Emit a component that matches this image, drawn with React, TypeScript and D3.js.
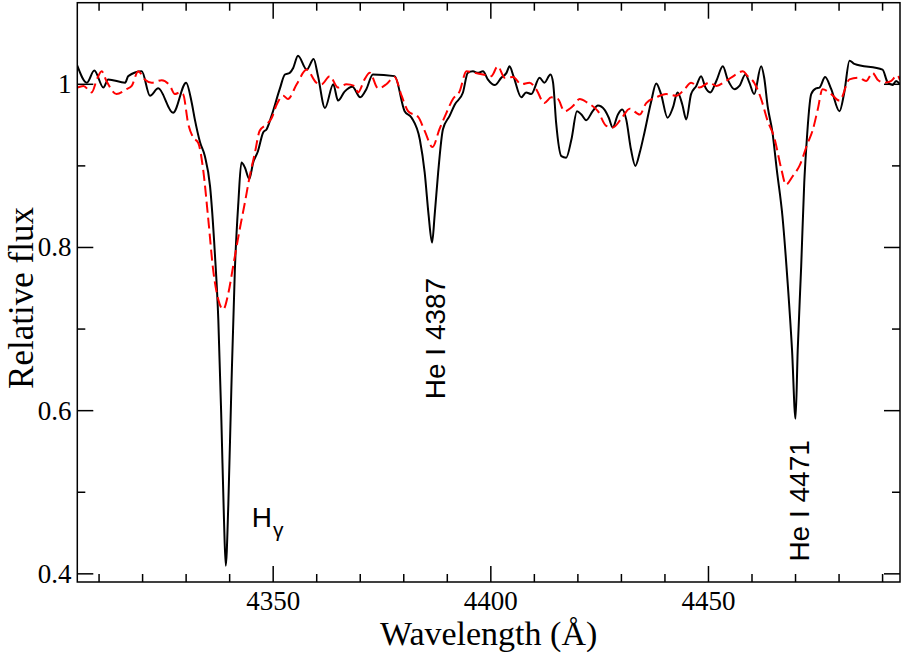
import React, { useEffect, useRef } from 'react'
import * as d3 from 'd3'

// observed spectrum (solid black)
const obsWave = [
  4305.0, 4307.2, 4308.9, 4311.0, 4312.1, 4316.0, 4316.7, 4319.8, 4321.7, 4323.6,
  4327.0, 4330.0, 4331.3, 4332.0, 4333.2, 4334.3, 4335.5, 4336.6, 4337.4, 4338.1,
  4338.7, 4339.1, 4339.7, 4340.4, 4341.2, 4342.0, 4342.7, 4343.5, 4344.5, 4345.4,
  4346.5, 4347.7, 4348.5, 4349.6, 4351.5, 4352.7, 4353.8, 4354.6, 4355.7, 4357.7,
  4359.3, 4360.3, 4361.9, 4363.8, 4364.9, 4366.4, 4368.2, 4370.0, 4371.4, 4372.9,
  4377.9, 4380.2, 4381.8, 4383.7, 4384.8, 4385.7, 4386.5, 4387.1, 4387.9, 4389.0,
  4390.5, 4391.7, 4393.6, 4394.7, 4395.9, 4397.0, 4398.2, 4399.3, 4400.9, 4402.4,
  4403.6, 4404.3, 4405.2, 4407.0, 4408.1, 4409.3, 4411.2, 4412.3, 4413.7, 4414.3,
  4415.0, 4416.2, 4417.3, 4418.5, 4419.8, 4420.8, 4421.9, 4423.4, 4424.6, 4426.1,
  4427.1, 4428.0, 4429.2, 4430.2, 4431.1, 4432.2, 4433.2, 4434.2, 4435.3, 4436.8,
  4438.0, 4439.1, 4440.6, 4441.8, 4442.9, 4444.0, 4444.9, 4446.0, 4447.2, 4448.3,
  4449.3, 4450.4, 4451.8, 4453.3, 4454.4, 4456.0, 4457.1, 4458.5, 4459.4, 4460.5,
  4462.1, 4462.8, 4463.6, 4464.7, 4465.7, 4467.0, 4468.2, 4469.2, 4470.0, 4470.5,
  4471.3, 4472.0, 4472.5, 4473.6, 4474.7, 4475.5, 4476.8, 4478.2, 4480.1, 4481.2,
  4482.4, 4483.5, 4490.0, 4491.1, 4492.3, 4493.1, 4494.0
]
const obsFlux = [
  1.023, 1.002, 1.017, 0.996, 1.006, 1.002, 1.010, 1.016, 0.986, 0.995,
  0.965, 1.002, 0.977, 0.957, 0.929, 0.912, 0.875, 0.793, 0.711, 0.588,
  0.466, 0.410, 0.486, 0.629, 0.773, 0.855, 0.904, 0.898, 0.884, 0.904,
  0.918, 0.941, 0.945, 0.961, 0.994, 1.012, 1.014, 1.020, 1.035, 1.018,
  1.031, 1.010, 0.971, 1.000, 0.980, 0.991, 0.997, 0.984, 0.994, 1.012,
  1.010, 0.967, 0.959, 0.932, 0.892, 0.840, 0.806, 0.840, 0.892, 0.945,
  0.961, 0.975, 0.990, 1.014, 1.016, 1.014, 1.016, 1.006, 0.999, 1.008,
  1.014, 1.022, 1.010, 0.984, 0.990, 0.988, 1.008, 1.002, 1.012, 1.002,
  0.953, 0.912, 0.910, 0.932, 0.967, 0.963, 0.956, 0.967, 0.974, 0.969,
  0.959, 0.947, 0.963, 0.969, 0.957, 0.920, 0.900, 0.916, 0.941, 0.978,
  1.001, 0.988, 0.959, 0.971, 0.990, 0.975, 0.957, 0.988, 0.998, 1.010,
  0.996, 0.990, 1.004, 1.022, 1.006, 0.994, 0.998, 1.012, 1.002, 0.988,
  1.022, 1.008, 0.973, 0.941, 0.895, 0.838, 0.756, 0.674, 0.590, 0.674,
  0.777, 0.879, 0.925, 0.988, 0.995, 0.996, 1.009, 0.994, 0.967, 0.990,
  1.029, 1.025, 1.018, 1.003, 0.999, 1.004, 1.000
]

// model spectrum (dashed red)
const modelWave = [
  4305.0, 4306.4, 4308.3, 4309.5, 4310.6, 4311.7, 4314.0, 4316.3, 4317.5, 4319.0,
  4320.5, 4322.1, 4324.4, 4326.3, 4327.4, 4328.6, 4329.3, 4330.5, 4331.6, 4332.8,
  4333.9, 4335.1, 4336.2, 4337.4, 4338.5, 4339.7, 4340.8, 4342.3, 4343.5, 4344.6,
  4345.8, 4346.9, 4348.5, 4349.6, 4350.8, 4352.3, 4353.4, 4355.4, 4357.7, 4359.9,
  4361.1, 4363.0, 4364.9, 4366.8, 4368.7, 4369.5, 4371.0, 4372.2, 4374.1, 4376.0,
  4377.9, 4379.5, 4381.0, 4383.3, 4384.8, 4386.6, 4388.2, 4389.8, 4391.3, 4392.8,
  4394.4, 4396.3, 4398.2, 4400.1, 4401.6, 4403.2, 4405.1, 4407.0, 4408.9, 4410.4,
  4412.3, 4413.9, 4415.4, 4416.9, 4418.8, 4420.4, 4422.3, 4424.6, 4426.5, 4428.0,
  4430.0, 4431.9, 4434.2, 4435.7, 4438.0, 4440.3, 4442.6, 4444.5, 4446.0, 4447.9,
  4450.2, 4451.8, 4454.0, 4456.0, 4457.9, 4459.0, 4460.5, 4462.1, 4463.6, 4465.1,
  4466.7, 4467.8, 4469.3, 4470.9, 4472.8, 4473.9, 4475.1, 4476.2, 4478.2, 4480.1,
  4482.4, 4484.6, 4486.2, 4487.7, 4488.8, 4490.4, 4491.9, 4493.4, 4494.0
]
const modelFlux = [
  0.996, 0.998, 0.990, 1.006, 1.016, 1.004, 0.988, 0.994, 0.998, 1.016,
  1.006, 1.002, 1.005, 0.998, 0.988, 0.990, 0.988, 0.951, 0.935, 0.928,
  0.896, 0.834, 0.773, 0.736, 0.724, 0.744, 0.777, 0.822, 0.855, 0.887,
  0.916, 0.943, 0.951, 0.958, 0.975, 0.986, 0.982, 1.000, 1.018, 1.002,
  1.000, 1.010, 0.996, 1.000, 0.998, 0.990, 1.006, 1.014, 0.995, 1.000,
  1.009, 0.986, 0.967, 0.960, 0.943, 0.923, 0.945, 0.965, 0.982, 0.991,
  1.016, 1.014, 1.012, 1.010, 1.022, 1.008, 1.009, 1.000, 1.002, 0.994,
  0.977, 0.984, 0.982, 0.967, 0.973, 0.982, 0.977, 0.967, 0.949, 0.947,
  0.958, 0.970, 0.963, 0.977, 0.984, 0.988, 0.986, 0.994, 1.002, 0.996,
  1.002, 0.998, 1.004, 1.011, 1.016, 1.010, 1.002, 0.982, 0.955, 0.935,
  0.897, 0.877, 0.887, 0.900, 0.928, 0.943, 0.969, 0.994, 0.988, 0.980,
  1.006, 1.008, 1.004, 1.014, 1.006, 1.002, 1.004, 1.011, 1.005
]

const xDomain = [4305, 4494]
const yDomain = [0.39, 1.1]
const xMajorTicks = [4350, 4400, 4450]
const xMinorTicks = [4310, 4320, 4330, 4340, 4360, 4370, 4380, 4390, 4410, 4420, 4430, 4440, 4460, 4470, 4480, 4490]
const yMajorTicks = [0.4, 0.6, 0.8, 1.0]
const yMinorTicks = [0.5, 0.7, 0.9]
const yTickLabels = ['0.4', '0.6', '0.8', '1']

// rotated identifications, anchored at their start (wavelength, flux)
const lineLabels = [
  { text: 'He I 4387', wave: 4389.4, flux: 0.614 },
  { text: 'He I 4471', wave: 4473.2, flux: 0.415 }
]

function App() {
  const ref = useRef(null)

  useEffect(() => {
    const width = 907
    const height = 660
    const margin = { top: 2.7, right: 7, bottom: 78, left: 77.3 }

    const svg = d3.select(ref.current)
    svg.selectAll('*').remove()

    const x = d3.scaleLinear().domain(xDomain).range([margin.left, width - margin.right])
    const y = d3.scaleLinear().domain(yDomain).range([height - margin.bottom, margin.top])
    const x0 = x.range()[0], x1 = x.range()[1]
    const y0 = y.range()[0], y1 = y.range()[1]

    const serif = '"Liberation Serif", "Times New Roman", Times, serif'
    const sans = '"Liberation Sans", Arial, Helvetica, sans-serif'

    svg.append('defs').append('clipPath').attr('id', 'plot-clip')
      .append('rect')
      .attr('x', x0).attr('y', y1)
      .attr('width', x1 - x0).attr('height', y0 - y1)

    const line = d3.line()
      .x(d => x(d[0]))
      .y(d => y(d[1]))
      .curve(d3.curveMonotoneX)

    const obs = obsWave.map((w, i) => [w, obsFlux[i]])
    const model = modelWave.map((w, i) => [w, modelFlux[i]])

    const g = svg.append('g').attr('clip-path', 'url(#plot-clip)')

    g.append('path')
      .attr('d', line(obs))
      .attr('fill', 'none')
      .attr('stroke', '#000')
      .attr('stroke-width', 2)
      .attr('stroke-linejoin', 'round')

    g.append('path')
      .attr('d', line(model))
      .attr('fill', 'none')
      .attr('stroke', '#ff0000')
      .attr('stroke-width', 2)
      .attr('stroke-dasharray', '11,5')

    // frame
    svg.append('rect')
      .attr('x', x0).attr('y', y1)
      .attr('width', x1 - x0).attr('height', y0 - y1)
      .attr('fill', 'none')
      .attr('stroke', '#000')
      .attr('stroke-width', 1.5)

    const ticks = svg.append('g').attr('stroke', '#000').attr('stroke-width', 1.5)
    const xTick = (v, len) => {
      ticks.append('line').attr('x1', x(v)).attr('x2', x(v)).attr('y1', y0).attr('y2', y0 - len)
      ticks.append('line').attr('x1', x(v)).attr('x2', x(v)).attr('y1', y1).attr('y2', y1 + len)
    }
    const yTick = (v, len) => {
      ticks.append('line').attr('y1', y(v)).attr('y2', y(v)).attr('x1', x0).attr('x2', x0 + len)
      ticks.append('line').attr('y1', y(v)).attr('y2', y(v)).attr('x1', x1).attr('x2', x1 - len)
    }
    xMajorTicks.forEach(v => xTick(v, 16))
    xMinorTicks.forEach(v => xTick(v, 8))
    yMajorTicks.forEach(v => yTick(v, 16))
    yMinorTicks.forEach(v => yTick(v, 8))

    svg.append('g').selectAll('text')
      .data(xMajorTicks)
      .join('text')
      .attr('x', d => x(d))
      .attr('y', 610)
      .attr('text-anchor', 'middle')
      .style('font-family', serif)
      .style('font-size', '27px')
      .text(d => String(d))

    svg.append('g').selectAll('text')
      .data(yMajorTicks)
      .join('text')
      .attr('x', 71.5)
      .attr('y', d => y(d) + 9)
      .attr('text-anchor', 'end')
      .style('font-family', serif)
      .style('font-size', '27px')
      .text((d, i) => yTickLabels[i])

    svg.append('text')
      .attr('x', (x0 + x1) / 2)
      .attr('y', 645)
      .attr('text-anchor', 'middle')
      .style('font-family', serif)
      .style('font-size', '34px')
      .text('Wavelength (Å)')

    svg.append('text')
      .attr('transform', `translate(33,298) rotate(-90)`)
      .attr('text-anchor', 'middle')
      .style('font-family', serif)
      .style('font-size', '35px')
      .text('Relative flux')

    // line identifications
    const hg = svg.append('text')
      .attr('x', x(4345.1))
      .attr('y', y(0.457))
      .style('font-family', sans)
      .style('font-size', '28px')
    hg.append('tspan').text('H')
    hg.append('tspan').style('font-size', '21px').attr('dx', 1).attr('dy', 10).text('γ')

    svg.append('g').selectAll('text')
      .data(lineLabels)
      .join('text')
      .attr('transform', d => `translate(${x(d.wave)},${y(d.flux)}) rotate(-90)`)
      .style('font-family', sans)
      .style('font-size', '28px')
      .text(d => d.text)
  }, [])

  return (
    <svg ref={ref} width={907} height={660}
      style={{ position: 'absolute', left: 0, top: 0, background: '#fff' }} />
  )
}

export default App
